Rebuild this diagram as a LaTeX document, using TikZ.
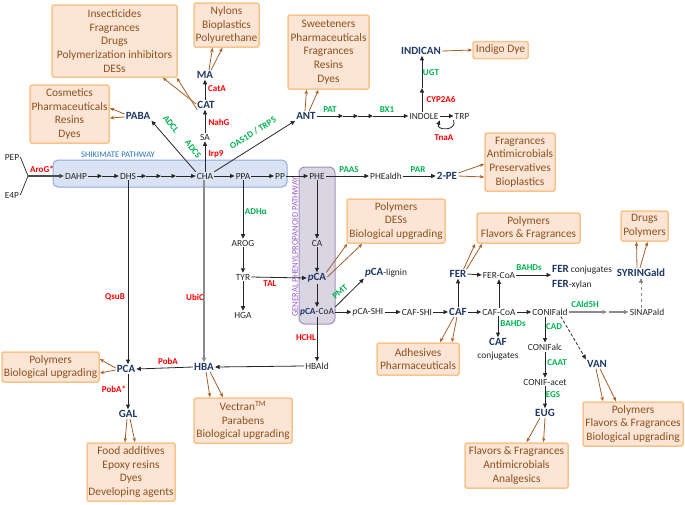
\documentclass[tikz,border=0pt]{standalone}
\usepackage{fontspec}
\setmainfont{Carlito}
\usetikzlibrary{arrows.meta}
\definecolor{navy}{RGB}{31,56,100}
\definecolor{enzred}{RGB}{255,0,0}
\definecolor{enzgreen}{RGB}{0,176,80}
\definecolor{appfill}{RGB}{252,229,213}
\definecolor{appdraw}{RGB}{248,196,140}
\definecolor{apptext}{RGB}{140,80,30}
\definecolor{shikfill}{RGB}{218,227,243}
\definecolor{shikdraw}{RGB}{143,170,220}
\definecolor{shiktext}{RGB}{46,117,182}
\definecolor{ppfill}{RGB}{217,213,227}
\definecolor{ppdraw}{RGB}{160,145,185}
\definecolor{pptext}{RGB}{150,90,210}
\definecolor{brarrow}{RGB}{165,95,40}
\tikzset{
 mol/.style={font=\fontsize{9.4}{11}\selectfont, text=black!85, inner sep=1pt},
 key/.style={font=\fontsize{11}{13}\selectfont\bfseries, text=navy, inner sep=1pt},
 enzr/.style={font=\fontsize{9}{10}\selectfont\bfseries, text=enzred, inner sep=0.5pt},
 enzg/.style={font=\fontsize{9}{10}\selectfont\bfseries, text=enzgreen, inner sep=0.5pt},
 app/.style={draw=appdraw, fill=appfill, line width=1.5pt, rounded corners=1.5pt, text=apptext, align=center, font=\fontsize{11.4}{13.7}\selectfont, inner sep=0pt},
 shikbox/.style={draw=shikdraw, fill=shikfill, line width=1pt, rounded corners=5pt, inner sep=0pt},
 ppbox/.style={draw=ppdraw, fill=ppfill, line width=1pt, rounded corners=6pt, inner sep=0pt},
 arr/.style={-{Triangle[length=4.5pt,width=4pt]}, line width=0.8pt, black!85},
 garr/.style={-{Triangle[length=4.5pt,width=4pt]}, line width=1.6pt, black!45},
 barr/.style={-{Stealth[length=4.5pt,width=3.5pt]}, line width=0.8pt, brarrow},
}
\begin{document}
\begin{tikzpicture}[x=1pt,y=-1pt]
\useasboundingbox (0,0) rectangle (685,504);

% pathway boxes
\node[shikbox, minimum width=234pt, minimum height=27pt] (shik) at (170,173.5) {};
\node[ppbox, minimum width=36pt, minimum height=157pt] (ppb) at (317,245.5) {};
\node[font=\fontsize{8.6}{10}\selectfont, text=shiktext, inner sep=0pt] (shiklab) at (118,155) {SHIKIMATE PATHWAY};
\node[font=\fontsize{8.6}{10}\selectfont, text=pptext, rotate=90, inner sep=0pt] (pplab) at (295,247) {GENERAL PHENYLPROPANOID PATHWAY};

% application boxes
\node[app, minimum width=125pt, minimum height=72pt] (insect) at (114.5,41) {Insecticides\\Fragrances\\Drugs\\Polymerization inhibitors\\DESs};
\node[app, minimum width=65pt, minimum height=44pt] (nylon) at (226.5,25) {Nylons\\Bioplastics\\Polyurethane};
\node[app, minimum width=79pt, minimum height=58pt] (cosm) at (69.5,114) {Cosmetics\\Pharmaceuticals\\Resins\\Dyes};
\node[app, minimum width=81pt, minimum height=74pt] (sweet) at (328.5,52) {Sweeteners\\Pharmaceuticals\\Fragrances\\Resins\\Dyes};
\node[app, minimum width=55pt, minimum height=17pt] (indigo) at (500.5,50) {Indigo Dye};
\node[app, minimum width=70pt, minimum height=58pt] (fragr) at (520,162) {Fragrances\\Antimicrobials\\Preservatives\\Bioplastics};
\node[app, minimum width=98pt, minimum height=44pt] (polyA) at (396,221) {Polymers\\DESs\\Biological upgrading};
\node[app, minimum width=103pt, minimum height=30pt] (polyF) at (528.5,228) {Polymers\\Flavors \& Fragrances};
\node[app, minimum width=47pt, minimum height=30pt] (drugs) at (644.5,226) {Drugs\\Polymers};
\node[app, minimum width=82pt, minimum height=32pt] (adh) at (418,359) {Adhesives\\Pharmaceuticals};
\node[app, minimum width=97pt, minimum height=30pt] (pcab) at (50.5,367) {Polymers\\Biological upgrading};
\node[app, minimum width=98pt, minimum height=45pt] (vect) at (243,420.5) {Vectran\textsuperscript{TM}\\Parabens\\Biological upgrading};
\node[app, minimum width=88pt, minimum height=58pt] (food) at (131,472) {Food additives\\Epoxy resins\\Dyes\\Developing agents};
\node[app, minimum width=103pt, minimum height=45pt] (flav) at (516.5,465.5) {Flavors \& Fragrances\\Antimicrobials\\Analgesics};
\node[app, minimum width=100pt, minimum height=44pt] (vanb) at (633,424) {Polymers\\Flavors \& Fragrances\\Biological upgrading};

% molecules
\node[mol] (PEP) at (12,157) {PEP};
\node[mol] (E4P) at (12,195) {E4P};
\coordinate (J) at (28,176);
\node[mol] (DAHP) at (76,176) {DAHP};
\node[mol] (DHS) at (128,176) {DHS};
\node[mol] (CHA) at (205,176) {CHA};
\node[mol] (PPA) at (243,176) {PPA};
\node[mol] (PP) at (280,176) {PP};
\node[mol] (PHE) at (317,176) {PHE};
\node[mol] (PHEaldh) at (386,176) {PHEaldh};
\node[key] (2PE) at (447,176) {2-PE};
\node[mol] (SA) at (205,137) {SA};
\node[key] (CAT) at (206,105) {CAT};
\node[key] (MA) at (205,75) {MA};
\node[key] (PABA) at (138,116) {PABA};
\node[key] (ANT) at (306,116) {ANT};
\node[mol] (INDOLE) at (424,116) {INDOLE};
\node[mol] (TRP) at (462,116) {TRP};
\node[key] (INDICAN) at (421,51) {INDICAN};
\node[mol] (AROG) at (243,243) {AROG};
\node[mol] (TYR) at (243,277) {TYR};
\node[mol] (HGA) at (243,315) {HGA};
\node[mol] (CA) at (317,243) {CA};
\node[key] (pCA) at (317,278) {\textit{p}CA};
\node[mol] (pCACoA) at (317,312) {\textcolor{navy}{\bfseries\textit{p}CA}-CoA};
\node[mol] (pCAlig) at (386,273) {{\fontsize{11}{13}\selectfont\bfseries\color{navy}\textit{p}CA}-lignin};
\node[mol] (pCASHI) at (368,312) {\textit{p}CA-SHI};
\node[mol] (CAFSHI) at (417,312) {CAF-SHI};
\node[key] (CAF) at (458,312) {CAF};
\node[key] (FER) at (458,274) {FER};
\node[mol] (FERCoA) at (499,275) {FER-CoA};
\node[mol] (CAFCoA) at (499,312) {CAF-CoA};
\node[mol] (CONIFald) at (550,312) {CONIFald};
\node[mol] (SINAPald) at (647,312) {SINAPald};
\node[key] (SYRINGald) at (641,273) {SYRINGald};
\node[mol, anchor=west] (FERconj) at (551,270) {{\fontsize{11}{13}\selectfont\bfseries\color{navy}FER} conjugates};
\node[mol, anchor=west] (FERxyl) at (551,285) {{\fontsize{11}{13}\selectfont\bfseries\color{navy}FER}-xylan};
\node[key] (CAFc) at (498,342) {CAF};
\node[mol] (CAFconj) at (498,356) {conjugates};
\node[mol] (CONIFalc) at (545,347) {CONIFalc};
\node[mol] (CONIFacet) at (545,382) {CONIF-acet};
\node[key] (EUG) at (545,413) {EUG};
\node[key] (VAN) at (597,364) {VAN};
\node[mol] (HBAld) at (317,366) {HBAld};
\node[key] (HBA) at (204,367) {HBA};
\node[key] (PCA) at (126,369) {PCA};
\node[key] (GAL) at (128,414) {GAL};

% helper coordinates
\coordinate (a1) at (102,176);
\coordinate (b1) at (146,176);
\coordinate (b2) at (161,176);
\coordinate (b3) at (176,176);
\coordinate (d1) at (343,116);
\coordinate (d2) at (358,116);
\coordinate (d3) at (373,116);
\coordinate (e1) at (422,88);
\coordinate (f1) at (607,312);
\coordinate (f2) at (609,312);

% shikimate
\draw[line width=0.7pt, black!85] (PEP.east) -- (J) -- (E4P.east);
\draw[garr, black!70] (J) -- (DAHP.west);
\draw[arr] (DAHP.east) -- (a1);
\draw[arr] (a1) -- (DHS.west);
\draw[arr] (DHS.east) -- (b1);
\draw[arr] (b1) -- (b2);
\draw[arr] (b2) -- (b3);
\draw[arr] (b3) -- (CHA.west);
\draw[arr] (CHA.east) -- (PPA.west);
\draw[arr] (PPA.east) -- (PP.west);
\draw[arr] (PP.east) -- (PHE.west);
\draw[arr] (PHE.east) -- (PHEaldh.west);
\draw[arr] (PHEaldh.east) -- (2PE.west);

% upward branches
\draw[arr] (CHA.north) -- (SA.south);
\draw[arr] (SA.north) -- (CAT.south -| SA.north);
\draw[arr] (CAT.north -| MA.south) -- (MA.south);
\draw[arr] (CHA.north west) -- (PABA.south east);
\draw[arr] (CHA.north east) -- (ANT.south west);
\draw[arr] (ANT.east) -- (d1);
\draw[arr] (d1) -- (d2);
\draw[arr] (d2) -- (d3);
\draw[arr] (d3) -- (INDOLE.west);
\draw[arr] (INDOLE.east) -- (TRP.west);
\draw[arr] (TRP.south west) .. controls (458,131) and (436,131) .. (INDOLE.south east);
\draw[arr] (INDOLE.north -| e1) -- (e1);
\draw[arr] (e1) -- (e1 |- INDICAN.south);

% tyrosine & phenylpropanoid
\draw[arr] (PPA.south) -- (AROG.north);
\draw[arr] (AROG.south) -- (TYR.north);
\draw[arr] (TYR.south) -- (HGA.north);
\draw[arr] (TYR.east) -- (pCA.west);
\draw[arr] (PHE.south) -- (CA.north);
\draw[arr] (CA.south) -- (pCA.north);
\draw[arr] (pCA.south) -- (pCACoA.north);
\draw[arr] (pCACoA.north east) -- (pCAlig.south west);
\draw[arr] (pCACoA.east) -- (pCASHI.west);
\draw[arr] (pCASHI.east) -- (CAFSHI.west);
\draw[arr] (CAFSHI.east) -- (CAF.west);
\draw[arr] (CAF.north) -- (FER.south);
\draw[arr] (FER.east) -- (FERCoA.west);
\draw[arr] (CAF.east) -- (CAFCoA.west);
\draw[arr] (CAFCoA.north) -- (FERCoA.south);
\draw[arr] (FERCoA.east) -- (FERCoA.east -| FERconj.west);
\draw[arr] (CAFCoA.east) -- (CONIFald.west);
\draw[arr] (CAFCoA.south -| CAFc.north) -- (CAFc.north);
\draw[garr] (CONIFald.east) -- (f1);
\draw[garr] (f2) -- (SINAPald.west);
\draw[arr, dashed, black!50] (SINAPald.north -| SYRINGald.south) -- (SYRINGald.south);
\draw[arr, densely dashed] ([xshift=-8pt]CONIFald.south east) -- (VAN.north west);
\draw[arr] (CONIFald.south -| CONIFalc.north) -- (CONIFalc.north);
\draw[arr] (CONIFalc.south) -- (CONIFacet.north);
\draw[arr] (CONIFacet.south) -- (EUG.north);

% benzoate branch
\draw[arr] (pCACoA.south) -- (HBAld.north);
\draw[arr] (HBAld.west) -- (HBA.east);
\draw[garr] (CHA.south -| HBA.north) -- (HBA.north);
\draw[arr] (DHS.south) -- (PCA.north -| DHS.south);
\draw[arr] (HBA.west) -- (PCA.east);
\draw[arr] (PCA.south -| GAL.north) -- (GAL.north);

% application arrows
\draw[barr] ([yshift=1pt]CAT.west) -- ([xshift=-15pt]insect.south east);
\draw[barr] ([xshift=1pt]CAT.south west) -- ([xshift=-1pt]insect.south east);
\draw[barr] ([xshift=4pt]MA.north) -- ([xshift=-14pt]nylon.south);
\draw[barr] ([xshift=6pt]MA.north) -- ([xshift=-4pt]nylon.south);
\draw[barr] ([yshift=2pt]PABA.west) -- ([yshift=6pt]cosm.east);
\draw[barr] ([yshift=-1pt]PABA.west) -- ([yshift=-4pt]cosm.east);
\draw[barr] ([xshift=-1pt]ANT.north) -- ([xshift=-22pt]sweet.south);
\draw[barr] ([xshift=3pt]ANT.north) -- ([xshift=-10pt]sweet.south);
\draw[barr] (INDICAN.east) -- (indigo.west);
\draw[barr] ([yshift=3pt]2PE.east) -- ([yshift=-2pt]fragr.west);
\draw[barr] (2PE.east) -- ([yshift=-15pt]fragr.west);
\draw[barr] ([xshift=-1pt]pCA.north east) -- ([xshift=1pt]polyA.south west);
\draw[barr] ([yshift=1pt]pCA.east) -- ([xshift=16pt]polyA.south west);
\draw[barr] ([xshift=-4pt]FER.north east) -- ([xshift=-1pt]polyF.south west);
\draw[barr] ([xshift=-1pt]FER.north east) -- ([xshift=6pt]polyF.south west);
\draw[barr] ([xshift=-4pt]SYRINGald.north) -- ([xshift=-8pt]drugs.south);
\draw[barr] ([xshift=-1pt]SYRINGald.north) -- ([xshift=3pt]drugs.south);
\draw[barr] ([xshift=-4pt]CAF.south) -- ([xshift=22pt]adh.north);
\draw[barr] ([xshift=-1pt]CAF.south) -- ([xshift=34pt]adh.north);
\draw[barr] ([xshift=-5pt]EUG.south) -- ([xshift=10pt]flav.north);
\draw[barr] (EUG.south) -- ([xshift=27pt]flav.north);
\draw[barr] ([xshift=-1pt]VAN.south) -- ([xshift=-30pt]vanb.north);
\draw[barr] ([xshift=3pt]VAN.south) -- ([xshift=-17pt]vanb.north);
\draw[barr] ([xshift=2pt]HBA.south) -- ([xshift=-33pt]vect.north);
\draw[barr] ([xshift=6pt]HBA.south) -- ([xshift=-20pt]vect.north);
\draw[barr] ([yshift=1pt]PCA.west) -- ([yshift=8pt]pcab.east);
\draw[barr] ([yshift=-1pt]PCA.west) -- ([yshift=-6pt]pcab.east);
\draw[barr] ([xshift=-1pt]GAL.south) -- ([xshift=-6pt]food.north);
\draw[barr] ([xshift=2pt]GAL.south) -- ([xshift=4pt]food.north);

% enzymes
\node[enzr] (eAroG) at (42,169) {AroG*};
\node[enzr] (eIrp9) at (216,154) {Irp9};
\node[enzr] (eNahG) at (219,122) {NahG};
\node[enzr] (eCatA) at (217,89) {CatA};
\node[enzg, rotate=-52] (eADCL) at (171,124) {ADCL};
\node[enzg, rotate=-52] (eADCS) at (193,149) {ADCS};
\node[enzg, rotate=32] (eOAS) at (253,133) {OAS1D / TRP5};
\node[enzg] (ePAT) at (330,110) {PAT};
\node[enzg] (eBX1) at (387,110) {BX1};
\node[enzr] (eCYP) at (441,99) {CYP2A6};
\node[enzg] (eUGT) at (431,73) {UGT};
\node[enzr] (eTnaA) at (444,138) {TnaA};
\node[enzg] (ePAAS) at (349,170) {PAAS};
\node[enzg] (ePAR) at (418,170) {PAR};
\node[enzg] (eADH) at (256,212) {ADHα};
\node[enzr] (eTAL) at (270,284) {TAL};
\node[enzg, rotate=42] (ePMT) at (340,292) {PMT};
\node[enzr] (eHCHL) at (306,338) {HCHL};
\node[enzr] (eQsuB) at (115,297) {QsuB};
\node[enzr] (eUbiC) at (195,297) {UbiC};
\node[enzr] (ePobA) at (168,361) {PobA};
\node[enzr] (ePobAs) at (114,389) {PobA*};
\node[enzg] (eBAHD1) at (529,268) {BAHDs};
\node[enzg] (eBAHD2) at (513,324) {BAHDs};
\node[enzg] (eCAld) at (585,304) {CAld5H};
\node[enzg] (eCAD) at (554,327) {CAD};
\node[enzg] (eCAAT) at (557,363) {CAAT};
\node[enzg] (eEGS) at (553,395) {EGS};
\end{tikzpicture}
\end{document}
